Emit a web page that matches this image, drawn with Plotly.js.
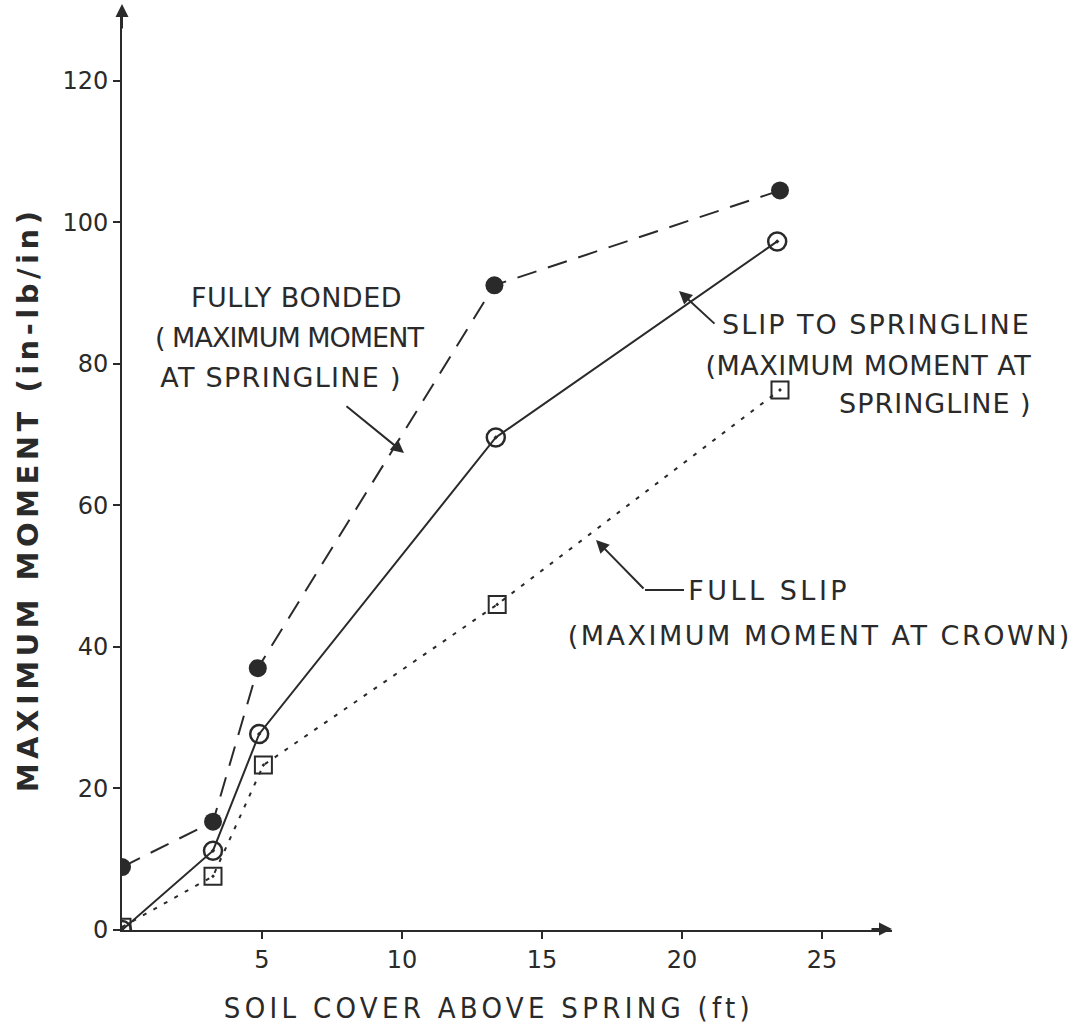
<!DOCTYPE html>
<html>
<head>
<meta charset="utf-8">
<script src="https://cdn.plot.ly/plotly-3.0.1.min.js"></script>
<style>html,body{margin:0;padding:0;background:#fff;}#chart{width:1082px;height:1035px;}</style>
<style id="spacing"></style>
</head>
<body>
<div id="chart"></div>
<script>
// Data
const bondedX = [0, 3.25, 4.85, 13.3, 23.5];
const bondedY = [8.9, 15.3, 37.0, 91.1, 104.5];
const slipSpringX = [0, 3.25, 4.9, 13.35, 23.4];
const slipSpringY = [0, 11.2, 27.7, 69.6, 97.3];
const fullSlipX = [0, 3.25, 5.05, 13.4, 23.5];
const fullSlipY = [0.4, 7.6, 23.3, 46.0, 76.3];
const xTicks = [5, 10, 15, 20, 25];
const yTicks = [0, 20, 40, 60, 80, 100, 120];

const ink = '#2a2a2a';
const FONT = 'DejaVu Sans, sans-serif';
const CONDENSED = 'DejaVu Sans Condensed, DejaVu Sans, sans-serif';

// plot area in pixels
const L = 122, R = 892, T = 10, B = 930;
const px = v => (v - L) / (R - L);
const py = v => (B - v) / (B - T);

const spacing = [];
function label(text, x, y, size, ls, weight, family) {
  spacing.push(ls || 0);
  return {text: text, xref: 'paper', yref: 'paper', x: px(x), y: py(y),
    xanchor: 'center', yanchor: 'middle', showarrow: false,
    font: {family: family || FONT, size: size || 27, color: ink, weight: weight || 'normal'}};
}
function arrow(xHead, yHead, xTail, yTail) {
  spacing.push(0);
  return {text: '', xref: 'paper', yref: 'paper', x: px(xHead), y: py(yHead),
    ax: xTail - xHead, ay: yTail - yHead, showarrow: true, arrowhead: 2,
    arrowsize: 1.3, arrowwidth: 2, arrowcolor: ink};
}

const traces = [
  {x: bondedX, y: bondedY, mode: 'lines+markers', name: 'Fully bonded',
   line: {color: ink, width: 2, dash: '20px,12px'},
   marker: {symbol: 'circle', size: 18, color: ink}},
  {x: slipSpringX, y: slipSpringY, mode: 'lines+markers', name: 'Slip to springline',
   line: {color: ink, width: 2},
   marker: {symbol: 'circle-open-dot', size: 18, color: ink, line: {width: 2.5, color: ink}}},
  {x: fullSlipX, y: fullSlipY, mode: 'lines+markers', name: 'Full slip',
   line: {color: ink, width: 2, dash: '4px,8px'},
   marker: {symbol: 'square-open-dot', size: 17, color: ink, line: {width: 2, color: ink}}}
];

const annotations = [
  label('MAXIMUM MOMENT (in-lb/in)', 28, 500, 29, 4.5, 'bold'),
  label('SOIL COVER ABOVE SPRING (ft)', 489, 1008, 29, 4.3, 'normal', CONDENSED),
  label('FULLY BONDED', 296, 297, 27, 0.5),
  label('( MAXIMUM MOMENT', 289, 337, 27, -1),
  label('AT SPRINGLINE )', 281, 377, 27, 1.3),
  arrow(404, 453, 345, 405),
  label('SLIP TO SPRINGLINE', 876, 325, 27, 2),
  label('(MAXIMUM MOMENT AT', 868, 365, 27, 0.5),
  label('SPRINGLINE )', 935, 403, 27, 1),
  arrow(679, 291, 716, 325),
  label('FULL SLIP', 769, 590, 27, 3.5),
  label('(MAXIMUM MOMENT AT CROWN)', 820, 635, 27, 2.5),
  arrow(596, 540, 645, 590),
  arrow(892, 929, 870, 929),
  arrow(122, 4, 122, 30)
];
annotations[0].textangle = -90;

document.getElementById('spacing').textContent = spacing.map((s, i) =>
  '.annotation[data-index="' + i + '"] text{letter-spacing:' + s + 'px;}').join('\n');

const layout = {
  width: 1082, height: 1035,
  margin: {l: L, r: 1082 - R, t: T, b: 1035 - B},
  paper_bgcolor: '#fff', plot_bgcolor: '#fff',
  showlegend: false,
  font: {family: FONT, color: ink},
  xaxis: {range: [0, 27.5], tickvals: xTicks, ticktext: xTicks.map(String),
    showgrid: false, zeroline: false, showline: true, linecolor: ink, linewidth: 2,
    ticks: 'outside', ticklen: 7, tickwidth: 2, tickcolor: ink,
    tickfont: {family: FONT, size: 24, color: ink}},
  yaxis: {range: [0, 130], tickvals: yTicks, ticktext: yTicks.map(String),
    showgrid: false, zeroline: false, showline: true, linecolor: ink, linewidth: 2,
    ticks: 'outside', ticklen: 7, tickwidth: 2, tickcolor: ink, ticklabelstandoff: 0,
    tickfont: {family: FONT, size: 24, color: ink}},
  annotations: annotations,
  shapes: [
    {type: 'line', xref: 'paper', yref: 'paper', x0: px(645), x1: px(684), y0: py(590), y1: py(590),
     line: {color: ink, width: 2}}
  ]
};

Plotly.newPlot('chart', traces, layout, {displayModeBar: false, staticPlot: true});
</script>
</body>
</html>
